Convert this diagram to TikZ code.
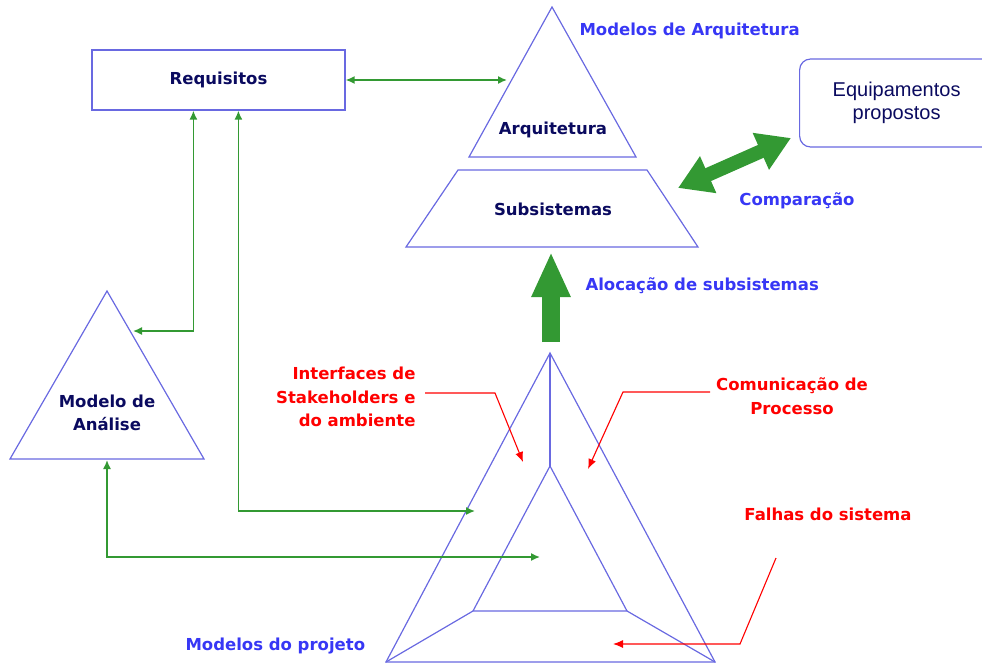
\documentclass[tikz,border=0pt]{standalone}
\usepackage{fontspec}
\setmainfont{DejaVu Sans}
\newfontfamily\boxfont{Liberation Sans}
\usetikzlibrary{arrows.meta}
\definecolor{lineblue}{RGB}{105,105,225}
\definecolor{navy}{RGB}{10,10,95}
\definecolor{labelblue}{RGB}{55,55,245}
\definecolor{arrowgreen}{RGB}{51,153,51}

\tikzset{
  shape line/.style={draw=lineblue,line width=1.2pt},
  name text/.style={font=\bfseries\fontsize{16.5}{23.5}\selectfont,text=navy,align=center},
  tag text/.style={font=\bfseries\fontsize{16.5}{23.5}\selectfont,text=labelblue},
  note text/.style={font=\bfseries\fontsize{16.5}{23.5}\selectfont,text=red},
  link/.style={draw=arrowgreen,line width=1.5pt,
    {Latex[length=9pt,width=8pt]}-{Latex[length=9pt,width=8pt]}},
  pointer/.style={draw=red,line width=1.1pt,-{Latex[length=10pt,width=8pt]}},
  fat arrow/.style={draw=arrowgreen,line width=#1}
}

\begin{document}
\begin{tikzpicture}[x=1pt,y=-1pt]
 \useasboundingbox (0,0) rectangle (982,663);

 % boxes
 \node[draw=lineblue,line width=1.2pt,minimum width=253pt,minimum height=60pt,name text]
   (req) at (218.5,80) {Requisitos};
 \node[draw=lineblue,line width=1.2pt,rounded corners=11pt,minimum width=200pt,
   minimum height=88pt,anchor=west,align=center,text=navy,
   font=\boxfont\fontsize{20}{23}\selectfont,inner sep=0pt]
   (equip) at (799,103) {\hspace*{-6pt}Equipamentos\\\hspace*{-6pt}propostos};

 % architecture pyramid
 \draw[shape line] (552,7) -- (636,157) -- (469,157) -- cycle;
 \draw[shape line] (458,170) -- (647,170) -- (698,247) -- (406,247) -- cycle;
 \node[name text] (arch) at (553,130) {Arquitetura};
 \node[name text] (subs) at (553,209) {Subsistemas};
 \node[tag text,anchor=west] (archtag) at (576,31) {Modelos de Arquitetura};
 \coordinate (archL) at (507,80);
 \coordinate (subsB) at (551,252);
 \coordinate (subsR) at (678,188);
 \coordinate (equipL) at (791,138);

 % analysis model
 \draw[shape line] (107,291) -- (204,459) -- (10,459) -- cycle;
 \node[name text] (ana) at (107,413) {Modelo de\\An\'alise};
 \coordinate (anaR) at (133,331);
 \coordinate (anaB) at (107,460);

 % design models
 \draw[shape line] (550,353) -- (715,662) -- (386,662) -- cycle;
 \draw[shape line] (550,466) -- (627,611) -- (473,611) -- cycle;
 \draw[shape line] (550,353) -- (550,466);
 \draw[shape line] (473,611) -- (386,662);
 \draw[shape line] (627,611) -- (715,662);
 \node[tag text,anchor=west] (projtag) at (182,646) {Modelos do projeto};
 \coordinate (projTop) at (551,342);
 \coordinate (projL) at (475,511);
 \coordinate (projC) at (540,557);

 % green connectors
 \draw[link] (req) -- (archL);
 \draw[link] ([xshift=102pt]req.south west) |- (anaR);
 \draw[link] ([xshift=147pt]req.south west) |- (projL);
 \draw[link] (anaB) |- (projC);

 % big arrows
 \draw[fat arrow=18pt,-{Triangle[length=45pt,width=36pt]}] (projTop) -- (subsB);
 \draw[fat arrow=14pt,{Triangle[length=33pt,width=38pt]}-{Triangle[length=33pt,width=38pt]}]
   (subsR) -- (equipL);
 \node[tag text] (cmp) at (797,201) {Compara\c{c}\~ao};
 \node[tag text,anchor=west] (alloc) at (582,286) {Aloca\c{c}\~ao de subsistemas};

 % red notes
 \node[note text,align=right,anchor=east] (iface) at (419,397)
   {Interfaces de\\Stakeholders e\\do ambiente};
 \node[note text,align=center] (comm) at (792,396) {Comunica\c{c}\~ao de\\Processo};
 \node[note text] (fail) at (828,514) {Falhas do sistema};
 \coordinate (ifaceEnd) at (523,462);
 \coordinate (commEnd) at (588,469);
 \coordinate (failStart) at (776,558);
 \coordinate (failEnd) at (613,644);
 \draw[pointer] (425,393) -- (495,393) -- (ifaceEnd);
 \draw[pointer] (710,392) -- (623,392) -- (commEnd);
 \draw[pointer] (failStart) -- (740,644) -- (failEnd);
\end{tikzpicture}
\end{document}
